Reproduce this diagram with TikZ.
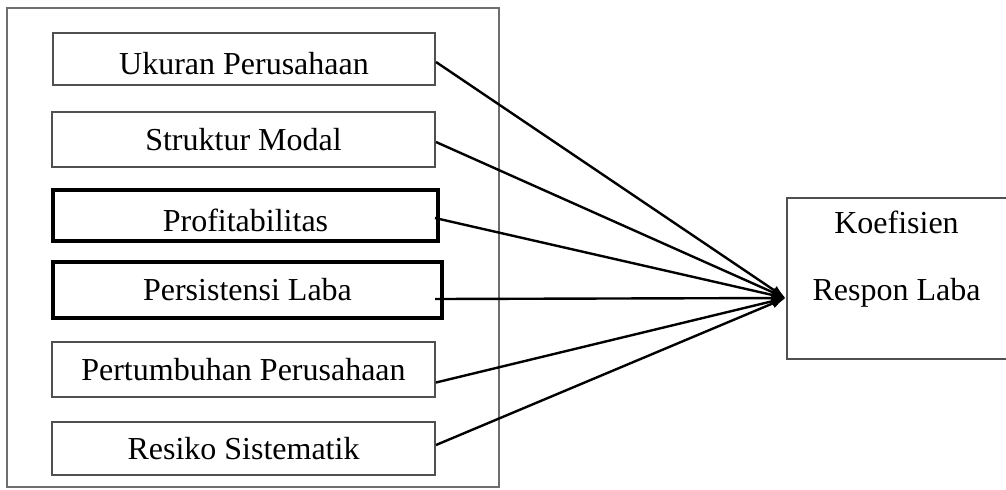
\documentclass[tikz,border=0pt]{standalone}
\usepackage{fontspec}
\setmainfont{Liberation Serif}
\usetikzlibrary{arrows.meta,calc}
\definecolor{framegray}{RGB}{110,110,110}
\definecolor{boxgray}{RGB}{80,80,80}

\begin{document}
\begin{tikzpicture}[
  x=.5pt,
  y=-.5pt,
  var/.style={
    draw=boxgray,
    line width=1pt,
    inner sep=0pt,
    align=center,
    font=\fontsize{16}{19}\selectfont
  },
  varbold/.style={var,draw=black,line width=2pt},
  group/.style={draw=framegray,line width=1.1pt,inner sep=0pt},
  outcome/.style={
    inner sep=0pt,
    align=center,
    minimum width=109.5pt,
    minimum height=80.5pt,
    font=\fontsize{16}{19}\selectfont
  },
  link/.style={-{Latex[length=7pt,width=5pt]},line width=1.2pt}
]
\useasboundingbox (0,0) rectangle (1006,489);

% independent variables
\node[group,minimum width=246pt,minimum height=239.5pt] (frame) at (253,247.5) {};
\node[var,minimum width=191pt,minimum height=26pt,text height=15pt,text depth=0pt]
  (ukuran) at (244,59) {Ukuran Perusahaan};
\node[var,minimum width=191.5pt,minimum height=27.5pt] (struktur) at (243.5,139.5) {Struktur Modal};
\node[varbold,minimum width=192.5pt,minimum height=25.5pt,text height=16pt,text depth=0pt]
  (profit) at (245.5,215.5) {Profitabilitas};
\node[varbold,minimum width=194.5pt,minimum height=28pt] (persist) at (247.5,290) {Persistensi Laba};
\node[var,minimum width=191.5pt,minimum height=27.5pt] (tumbuh) at (243.5,369.5) {Pertumbuhan Perusahaan};
\node[var,minimum width=191.5pt,minimum height=26.5pt] (resiko) at (243.5,448.5) {Resiko Sistematik};

% dependent variable (right side runs off the page)
\node[outcome] (respon) at (896.5,278.5) {Koefisien\\[14.5pt]Respon Laba\\[3.5pt]\mbox{}};
\draw[boxgray,line width=1pt]
  (respon.north east) -- (respon.north west) -- (respon.south west) -- (respon.south east);
\coordinate (tip) at ($(respon.west)+(-1,19.5)$);

\draw[link] ($(ukuran.east)+(0,3)$) -- (tip);
\draw[link] ($(struktur.east)+(0,2.5)$) -- (tip);
\draw[link] ($(profit.east)+(-5,2.5)$) -- (tip);
\draw[link] ($(persist.east)+(-9,9)$) -- (tip);
\draw[link] ($(tumbuh.east)+(0,13)$) -- (tip);
\draw[link] ($(resiko.east)+(0,-3.5)$) -- (tip);
\end{tikzpicture}
\end{document}
